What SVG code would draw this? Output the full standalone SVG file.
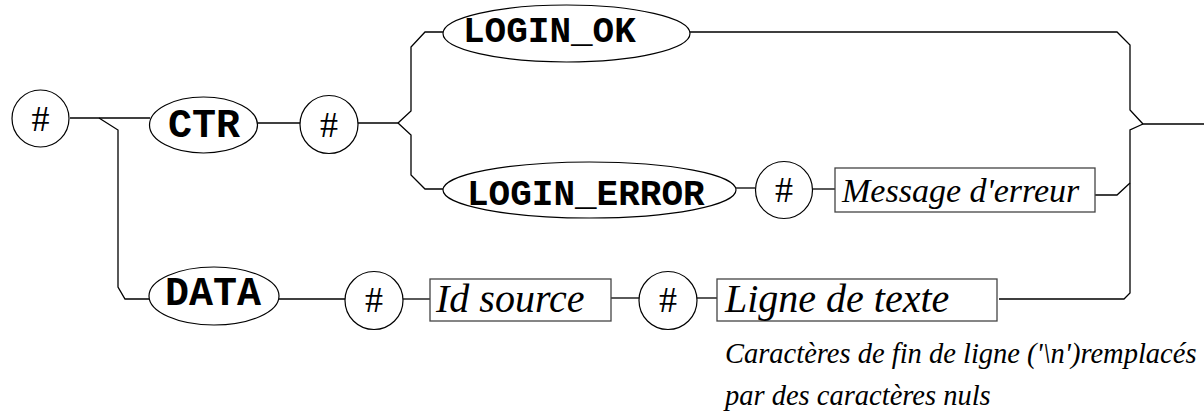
<svg xmlns="http://www.w3.org/2000/svg" width="1204" height="419" viewBox="0 0 1204 419">
  <style>
    .ln { fill: none; stroke: #000; stroke-width: 1.3; }
    .term ellipse { fill: #fff; stroke: #000; stroke-width: 1.2; }
    .kw { font-family: "Courier New", Courier, "Nimbus Mono PS", "Liberation Mono", monospace; font-weight: bold; font-size: 36px; fill: #000; }
    .sep circle { fill: #fff; stroke: #000; stroke-width: 1.2; }
    .sep text { font-family: "Liberation Serif", "Times New Roman", serif; font-size: 36px; text-anchor: middle; fill: #000; }
    .box rect { fill: #fff; stroke: #444; stroke-width: 1.3; }
    .it { font-family: "Liberation Serif", "Times New Roman", serif; font-style: italic; fill: #000; }
  </style>

  <!-- connectors -->
  <g id="connectors" class="ln">
    <path d="M70,118 H150"/>
    <path d="M99,118 L118,130 V287 L125,299 H149"/>
    <path d="M258,123 H300"/>
    <path d="M358,123 H398"/>
    <path d="M398,123 L411,111 V47 L425,32 H443"/>
    <path d="M398,123 L411,135 V175 L425,189 H443"/>
    <path d="M690,32 H1117 L1130,45 V110 L1143,124 H1204"/>
    <path d="M1143,124 L1130,130 V293 L1124,299 H999"/>
    <path d="M736,188 H755"/>
    <path d="M813,189 H835"/>
    <path d="M1095,195 H1117 L1130,183"/>
    <path d="M279,299 H345"/>
    <path d="M403,299 H430"/>
    <path d="M611,298 H639"/>
    <path d="M697,298 H717"/>
  </g>

  <!-- start separator -->
  <g id="sep-start" class="sep">
    <circle cx="40.5" cy="118.5" r="28.5"/>
    <text x="40.5" y="131">#</text>
  </g>

  <g id="ctr" class="term">
    <ellipse cx="203.5" cy="125" rx="54" ry="28"/>
    <text class="kw" x="168" y="137" style="font-size:40px">CTR</text>
  </g>

  <g id="sep-ctr" class="sep">
    <circle cx="329" cy="124.5" r="29"/>
    <text x="329" y="137">#</text>
  </g>

  <g id="login-ok" class="term">
    <ellipse cx="566.5" cy="33.5" rx="123.5" ry="28.5"/>
    <text class="kw" x="463" y="42">LOGIN_OK</text>
  </g>

  <g id="login-error" class="term">
    <ellipse cx="589.5" cy="190" rx="146.5" ry="28"/>
    <text class="kw" x="467" y="205">LOGIN_ERROR</text>
  </g>

  <g id="sep-error" class="sep">
    <circle cx="784" cy="190" r="28.5"/>
    <text x="784" y="202">#</text>
  </g>

  <g id="message" class="box">
    <rect x="835" y="168" width="260" height="44"/>
    <text class="it" x="842" y="202" style="font-size:34px">Message d'erreur</text>
  </g>

  <g id="data" class="term">
    <ellipse cx="214" cy="296" rx="65" ry="29"/>
    <text class="kw" x="165" y="305" style="font-size:40px">DATA</text>
  </g>

  <g id="sep-data" class="sep">
    <circle cx="374" cy="300.5" r="29"/>
    <text x="374" y="312">#</text>
  </g>

  <g id="id-source" class="box">
    <rect x="430" y="279" width="181" height="42"/>
    <text class="it" x="436" y="312" style="font-size:40px">Id source</text>
  </g>

  <g id="sep-source" class="sep">
    <circle cx="668" cy="300.5" r="29"/>
    <text x="668" y="312">#</text>
  </g>

  <g id="ligne" class="box">
    <rect x="717" y="279" width="280" height="42"/>
    <text class="it" x="725" y="312" style="font-size:40px">Ligne de texte</text>
  </g>

  <g id="note">
    <text class="it" x="725" y="363" style="font-size:28.5px">Caractères de fin de ligne ('\n')remplacés</text>
    <text class="it" x="725" y="405" style="font-size:28.5px">par des caractères nuls</text>
  </g>
</svg>
